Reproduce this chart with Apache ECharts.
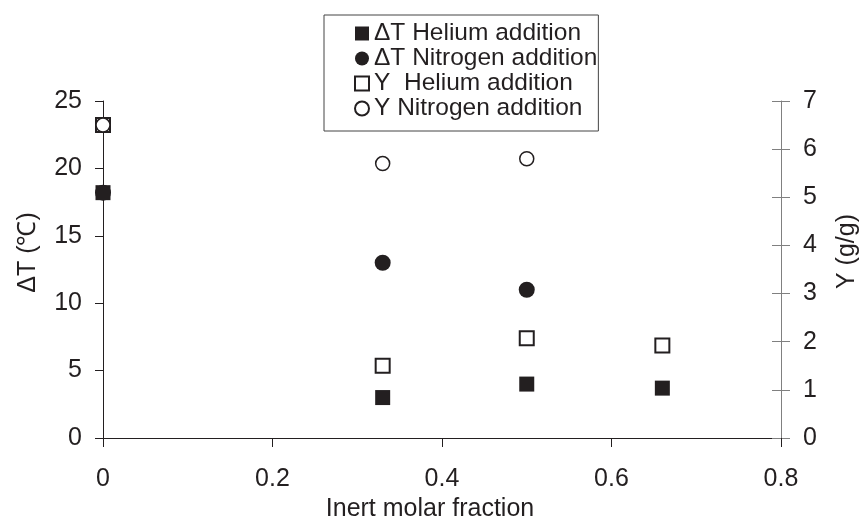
<!DOCTYPE html>
<html>
<head>
    <meta charset="utf-8"/>
    <title>ECharts</title>
    <script src="https://cdn.jsdelivr.net/npm/echarts@6/dist/echarts.min.js"></script>
</head>
<body style="margin:0">
<div id="main" style="width: 861px; height: 516px"></div>
<script type="text/javascript">
    // data
    var heliumX = [0, 0.33, 0.5, 0.66];
    var heliumDT = [18.2, 3.0, 4.0, 3.7];
    var heliumY = [6.5, 1.5, 2.07, 1.92];
    var nitrogenX = [0, 0.33, 0.5];
    var nitrogenDT = [18.2, 13.0, 11.0];
    var nitrogenY = [6.5, 5.7, 5.8];

    function pairs(xs, ys) {
        return xs.map(function (x, i) { return [x, ys[i]]; });
    }

    var font = 'Liberation Sans, Arial, sans-serif';
    var ink = '#231f20';
    var myChart = echarts.init(document.getElementById('main'));

    var option = {
        animation: false,
        textStyle: {fontFamily: font, color: ink},
        grid: {left: 103, right: 80, top: 101, bottom: 78, outerBoundsMode: 'none', containLabel: false},
        legend: {
            orient: 'vertical',
            left: 324,
            top: 15,
            padding: [6, 1, 10, 30],
            itemWidth: 14,
            itemHeight: 14,
            itemGap: 0,
            itemTextGap: 5,
            borderColor: '#444',
            borderWidth: 1,
            textStyle: {fontSize: 24.5, lineHeight: 24.7, color: ink},
            data: ['ΔT Helium addition', 'ΔT Nitrogen addition', 'Y  Helium addition', 'Y Nitrogen addition']
        },
        xAxis: {
            type: 'value',
            min: 0,
            max: 0.8,
            interval: 0.2,
            name: 'Inert molar fraction',
            nameLocation: 'middle',
            nameGap: 46,
            nameTextStyle: {fontSize: 25, color: ink, padding: [0, 24, 0, 0]},
            axisLine: {lineStyle: {color: ink, width: 1}},
            axisTick: {length: 9, lineStyle: {color: ink}},
            axisLabel: {fontSize: 25, margin: 29, color: ink},
            splitLine: {show: false}
        },
        yAxis: [
            {
                type: 'value',
                min: 0,
                max: 25,
                interval: 5,
                name: 'ΔT (℃)',
                nameLocation: 'middle',
                nameGap: 62,
                nameTextStyle: {fontSize: 25, color: ink, padding: [0, 0, 0, 34]},
                axisLine: {show: true, lineStyle: {color: ink, width: 1}},
                axisTick: {show: true, length: 8, lineStyle: {color: ink}},
                axisLabel: {fontSize: 25, margin: 21, color: ink},
                splitLine: {show: false}
            },
            {
                type: 'value',
                position: 'right',
                min: 0,
                max: 7,
                interval: 1,
                name: 'Y (g/g)',
                nameLocation: 'middle',
                nameRotate: 90,
                nameGap: 54,
                nameTextStyle: {fontSize: 25, color: ink, padding: [0, 0, 0, 36]},
                axisLine: {show: true, lineStyle: {color: '#808080', width: 1}},
                axisTick: {show: true, length: 9, lineStyle: {color: '#808080'}},
                axisLabel: {fontSize: 25, margin: 22, color: ink},
                splitLine: {show: false}
            },
            {
                // second copy of the right axis so its ticks cross the line
                type: 'value',
                position: 'right',
                min: 0,
                max: 7,
                interval: 1,
                axisLine: {show: false},
                axisTick: {show: true, inside: true, length: 9, lineStyle: {color: '#808080'}},
                axisLabel: {show: false},
                splitLine: {show: false}
            }
        ],
        series: [
            {
                name: 'ΔT Nitrogen addition',
                type: 'scatter',
                yAxisIndex: 0,
                symbol: 'circle',
                symbolSize: 16,
                itemStyle: {color: ink, opacity: 1},
                data: pairs(nitrogenX, nitrogenDT),
                z: 2
            },
            {
                name: 'ΔT Helium addition',
                type: 'scatter',
                yAxisIndex: 0,
                symbol: 'rect',
                symbolSize: 15,
                itemStyle: {color: ink, opacity: 1},
                data: pairs(heliumX, heliumDT),
                z: 3
            },
            {
                name: 'Y  Helium addition',
                type: 'scatter',
                yAxisIndex: 1,
                symbol: 'rect',
                symbolSize: 14,
                itemStyle: {color: '#fff', borderColor: ink, borderWidth: 2, opacity: 1},
                data: pairs(heliumX, heliumY),
                z: 4
            },
            {
                name: 'Y Nitrogen addition',
                type: 'scatter',
                yAxisIndex: 1,
                symbol: 'circle',
                symbolSize: 14,
                itemStyle: {color: '#fff', borderColor: ink, borderWidth: 1.5, opacity: 1},
                data: pairs(nitrogenX, nitrogenY),
                z: 5
            }
        ]
    };

    myChart.setOption(option);
</script>
</body>
</html>
